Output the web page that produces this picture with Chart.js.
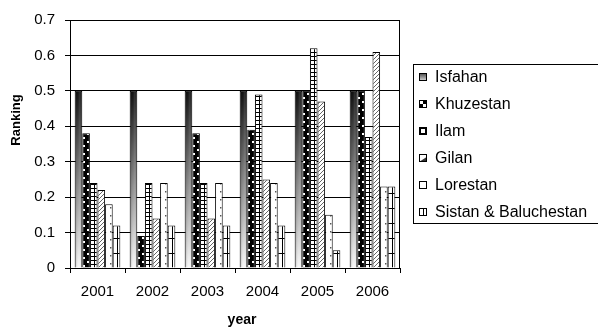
<!DOCTYPE html>
<html>
<head>
<meta charset="utf-8">
<script src="https://cdn.jsdelivr.net/npm/chart.js@4/dist/chart.umd.min.js"></script>
<style>
  html, body { margin: 0; padding: 0; background: #fff; }
  #c { display: block; }
</style>
</head>
<body>
<canvas id="c" width="598" height="329"></canvas>
<script>
// Regional ranking by year
const years = ['2001', '2002', '2003', '2004', '2005', '2006'];
const isfahan    = [0.50, 0.50, 0.50, 0.50, 0.50, 0.50];
const khuzestan  = [0.38, 0.09, 0.38, 0.39, 0.50, 0.50];
const ilam       = [0.24, 0.24, 0.24, 0.49, 0.62, 0.37];
const gilan      = [0.22, 0.14, 0.14, 0.25, 0.47, 0.61];
const lorestan   = [0.18, 0.24, 0.24, 0.24, 0.15, 0.23];
const sistan     = [0.12, 0.12, 0.12, 0.12, 0.05, 0.23];
const yTicks = [0, 0.1, 0.2, 0.3, 0.4, 0.5, 0.6, 0.7];

const CAT_PCT = 0.83;
const FONT = '"Liberation Sans", Arial, sans-serif';

// --- fill patterns -------------------------------------------------------
function tile(w, h, draw) {
  const c = document.createElement('canvas');
  c.width = w; c.height = h;
  const g = c.getContext('2d');
  g.fillStyle = '#fff';
  g.fillRect(0, 0, w, h);
  draw(g, w, h);
  return c;
}

const tiles = {
  checker: tile(8, 8, (g) => {
    g.fillStyle = '#000';
    g.fillRect(0, 0, 4, 4);
    g.fillRect(4, 4, 4, 4);
    g.strokeStyle = '#000'; g.lineWidth = 1;
    g.strokeRect(4.5, 0.5, 3, 3);
    g.strokeRect(0.5, 4.5, 3, 3);
  }),
  grid: tile(4, 4, (g) => {
    g.fillStyle = '#000';
    g.fillRect(0, 0, 4, 1);
    g.fillRect(0, 0, 1, 4);
  }),
  diag: tile(4, 4, (g) => {
    g.strokeStyle = '#555'; g.lineWidth = 0.9;
    g.beginPath();
    g.moveTo(-1, 5); g.lineTo(5, -1);
    g.moveTo(-1, 1); g.lineTo(1, -1);
    g.moveTo(3, 5); g.lineTo(5, 3);
    g.stroke();
  }),
  dots: tile(8, 8, (g) => {
    g.fillStyle = '#555';
    g.fillRect(5, 3, 1.5, 1.5);
  }),
  lines: tile(8, 15, (g) => {
    g.fillStyle = '#000';
    g.fillRect(0, 0, 8, 1);
    g.fillRect(4, 0, 1, 15);
  })
};

function shadeTile(w, h) {
  return tile(Math.max(1, Math.ceil(w)), Math.max(1, Math.ceil(h)), (g, W, H) => {
    const v = g.createLinearGradient(0, 0, 0, H);
    v.addColorStop(0, '#111');
    v.addColorStop(0.5, '#8a8a8a');
    v.addColorStop(1, '#ffffff');
    g.fillStyle = v;
    g.fillRect(0, 0, W, H);
    const hz = g.createLinearGradient(0, 0, W, 0);
    hz.addColorStop(0, 'rgba(0,0,0,0.25)');
    hz.addColorStop(0.4, 'rgba(0,0,0,0)');
    hz.addColorStop(0.6, 'rgba(255,255,255,0.15)');
    hz.addColorStop(1, 'rgba(0,0,0,0.05)');
    g.fillStyle = hz;
    g.fillRect(0, 0, W, H);
  });
}

// Geometry of one bar, from the chart's own scales
function barBox(chart, dsIndex, dataIndex, value) {
  const xs = chart.scales.x, ys = chart.scales.y;
  if (!xs || !ys || !chart.chartArea) return null;
  const n = chart.data.datasets.length;
  const catW = (chart.chartArea.right - chart.chartArea.left) / chart.data.labels.length;
  const barW = catW * CAT_PCT / n;
  const left = xs.getPixelForValue(dataIndex) - catW * CAT_PCT / 2 + dsIndex * barW;
  const top = ys.getPixelForValue(value);
  const bottom = ys.getPixelForValue(0);
  return { left, top, bottom, barW };
}

function patternFill(kind) {
  return (ctx) => {
    const chart = ctx.chart;
    const c2d = chart.ctx;
    if (ctx.type !== 'data') return '#fff';
    const box = barBox(chart, ctx.datasetIndex, ctx.dataIndex, ctx.raw);
    if (!box) return '#fff';
    let p;
    if (kind === 'shade') {
      p = c2d.createPattern(shadeTile(box.barW, box.bottom - box.top), 'no-repeat');
      p.setTransform(new DOMMatrix().translate(box.left, box.top));
    } else {
      p = c2d.createPattern(tiles[kind], 'repeat');
      p.setTransform(new DOMMatrix().translate(Math.round(box.left), Math.round(box.bottom)));
    }
    return p;
  };
}

function series(label, data, kind) {
  return {
    label, data,
    backgroundColor: patternFill(kind),
    borderColor: '#000',
    borderWidth: 1,
    borderSkipped: 'bottom',
    kind
  };
}

// --- plugins: frame, axis titles, legend --------------------------------
const framePlugin = {
  id: 'frame',
  afterDatasetsDraw(chart) {
    const { ctx, chartArea: a } = chart;
    ctx.save();
    ctx.strokeStyle = '#000';
    ctx.lineWidth = 1;
    ctx.beginPath();
    ctx.moveTo(Math.round(a.left) + 0.5, Math.round(a.top) + 0.5);
    ctx.lineTo(Math.round(a.right) - 0.5, Math.round(a.top) + 0.5);
    ctx.lineTo(Math.round(a.right) - 0.5, Math.round(a.bottom) + 0.5);
    ctx.stroke();
    ctx.restore();
  }
};

const titlesPlugin = {
  id: 'axisTitles',
  afterDraw(chart) {
    const { ctx } = chart;
    ctx.save();
    ctx.fillStyle = '#000';
    ctx.font = 'bold 14px ' + FONT;
    ctx.textAlign = 'center';
    ctx.textBaseline = 'middle';
    ctx.fillText('year', 242, 320);
    ctx.font = 'bold 13px ' + FONT;
    ctx.translate(16, 120);
    ctx.rotate(-Math.PI / 2);
    ctx.fillText('Ranking', 0, 0);
    ctx.restore();
  }
};

function legendSwatch(ctx, kind, x, y, s) {
  ctx.save();
  if (kind === 'shade') {
    const g = ctx.createLinearGradient(0, y, 0, y + s);
    g.addColorStop(0, '#444');
    g.addColorStop(1, '#ddd');
    ctx.fillStyle = g;
  } else if (kind === 'checker') {
    ctx.fillStyle = '#fff';
    ctx.fillRect(x, y, s, s);
    ctx.fillStyle = '#000';
    ctx.fillRect(x, y + s / 2, s / 2, s / 2);
    ctx.fillRect(x + s / 2, y, s / 2, s / 2);
    ctx.fillStyle = 'rgba(0,0,0,0)';
  } else if (kind === 'grid') {
    ctx.fillStyle = '#000';
    ctx.fillRect(x, y, s, s);
    ctx.fillStyle = '#fff';
    ctx.fillRect(x + 2, y + 2, s - 4, s - 4);
    ctx.fillStyle = 'rgba(0,0,0,0)';
  } else if (kind === 'diag') {
    ctx.fillStyle = '#fff';
    ctx.fillRect(x, y, s, s);
    ctx.fillStyle = '#333';
    ctx.beginPath();
    ctx.moveTo(x, y + s); ctx.lineTo(x + s, y + s / 3); ctx.lineTo(x + s, y + s); ctx.closePath();
    ctx.fill();
    ctx.fillStyle = 'rgba(0,0,0,0)';
  } else if (kind === 'lines') {
    ctx.fillStyle = '#fff';
    ctx.fillRect(x, y, s, s);
    ctx.fillStyle = '#000';
    ctx.fillRect(x + s / 2, y, 1, s);
    ctx.fillStyle = 'rgba(0,0,0,0)';
  } else {
    ctx.fillStyle = '#fff';
  }
  ctx.fillRect(x, y, s, s);
  ctx.strokeStyle = '#000';
  ctx.lineWidth = 1;
  ctx.strokeRect(x + 0.5, y + 0.5, s - 1, s - 1);
  ctx.restore();
}

const legendPlugin = {
  id: 'boxLegend',
  afterDraw(chart) {
    const { ctx } = chart;
    const x0 = 413, y0 = 64, y1 = 223;
    ctx.save();
    ctx.strokeStyle = '#000';
    ctx.lineWidth = 1;
    ctx.strokeRect(x0 + 0.5, y0 + 0.5, 700, y1 - y0);
    ctx.font = '16px ' + FONT;
    ctx.textBaseline = 'middle';
    ctx.textAlign = 'left';
    ctx.fillStyle = '#000';
    chart.data.datasets.forEach((ds, i) => {
      const cy = 77 + i * 27;
      legendSwatch(ctx, ds.kind, 419, Math.round(cy - 4), 8);
      ctx.fillStyle = '#000';
      ctx.fillText(ds.label, 435, cy + 1);
    });
    ctx.restore();
  }
};

// --- chart ---------------------------------------------------------------
new Chart(document.getElementById('c'), {
  type: 'bar',
  data: {
    labels: years,
    datasets: [
      series('Isfahan', isfahan, 'shade'),
      series('Khuzestan', khuzestan, 'checker'),
      series('Ilam', ilam, 'grid'),
      series('Gilan', gilan, 'diag'),
      series('Lorestan', lorestan, 'dots'),
      series('Sistan & Baluchestan', sistan, 'lines')
    ]
  },
  options: {
    responsive: false,
    animation: false,
    devicePixelRatio: 1,
    layout: { padding: { left: 0, right: 198, top: 20, bottom: 0 } },
    datasets: { bar: { categoryPercentage: CAT_PCT, barPercentage: 1 } },
    plugins: {
      legend: { display: false },
      tooltip: { enabled: false }
    },
    scales: {
      x: {
        offset: true,
        grid: { offset: true, drawOnChartArea: false, drawTicks: true, tickLength: 5, color: '#000' },
        border: { color: '#000', width: 1 },
        ticks: { color: '#000', font: { family: FONT, size: 15 }, padding: 10, maxRotation: 0 },
        afterFit(scale) { scale.height = 61; }
      },
      y: {
        min: 0, max: 0.7,
        afterBuildTicks(scale) { scale.ticks = yTicks.map(v => ({ value: v })); },
        grid: { color: '#000', tickLength: 5, drawTicks: true },
        border: { color: '#000', width: 1 },
        ticks: { color: '#000', font: { family: FONT, size: 15 }, padding: 10,
                 callback: (v) => String(Math.round(v * 10) / 10) },
        afterFit(scale) { scale.width = 70; }
      }
    }
  },
  plugins: [framePlugin, titlesPlugin, legendPlugin]
});
</script>
</body>
</html>
